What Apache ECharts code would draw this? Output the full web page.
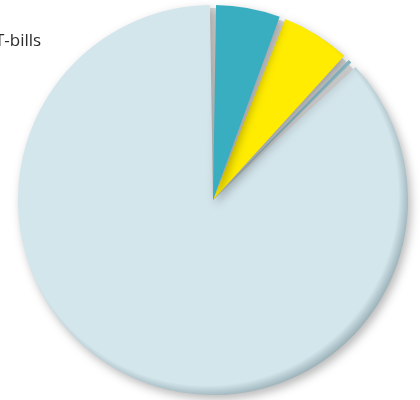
<!DOCTYPE html>
<html>
<head>
<meta charset="utf-8">
<script src="https://cdn.jsdelivr.net/npm/echarts@6/dist/echarts.min.js"></script>
<style>html,body{margin:0;padding:0;background:#fff}#c{width:420px;height:400px}</style>
</head>
<body>
<div id="c"></div>
<script>
var categories = ['Cash', 'Gold', 'Other', 'T-bills'];
var values = [5.8, 6.2, 0.8, 87.2];
var colors = ['#3aaec1', '#ffec00', '#8cbfcc', '#d3e6ec'];
var edges = ['#2c8a9a', '#d6c400', '#78a4b0', '#9ab0b7'];

var cx = 213, cy = 200, R = 195, d = 6;
function rim(base, edge) {
  return {
    type: 'radial', x: cx - d, y: cy - d, r: R + d * 1.42, global: true,
    colorStops: [
      { offset: 0, color: base },
      { offset: 0.94, color: base },
      { offset: 1, color: edge }
    ]
  };
}

var order = [3, 2, 1, 0];
var chart = echarts.init(document.getElementById('c'));
chart.setOption({
  animation: false,
  graphic: [{
    type: 'text', x: -5, y: 41,
    style: { text: 'T-bills', fill: '#2a2a2a', font: '17px "Open Sans", sans-serif', verticalAlign: 'middle' }
  }],
  series: [{
    type: 'pie',
    z: 1,
    silent: true,
    center: [cx, cy],
    radius: [0, R - 3],
    label: { show: false },
    labelLine: { show: false },
    data: [{ value: 1, itemStyle: { color: '#dcdcdc' } }]
  }, {
    type: 'pie',
    z: 2,
    center: [cx, cy],
    radius: [0, R],
    startAngle: 90,
    clockwise: false,
    padAngle: 1.8,
    label: { show: false },
    labelLine: { show: false },
    data: order.map(function (i) {
      return {
        name: categories[i], value: values[i],
        itemStyle: { color: rim(colors[i], edges[i]) }
      };
    }),
    itemStyle: {
      borderWidth: 0,
      shadowBlur: 10,
      shadowOffsetX: 3,
      shadowOffsetY: 4,
      shadowColor: 'rgba(0,0,0,0.28)'
    }
  }]
});
</script>
</body>
</html>
